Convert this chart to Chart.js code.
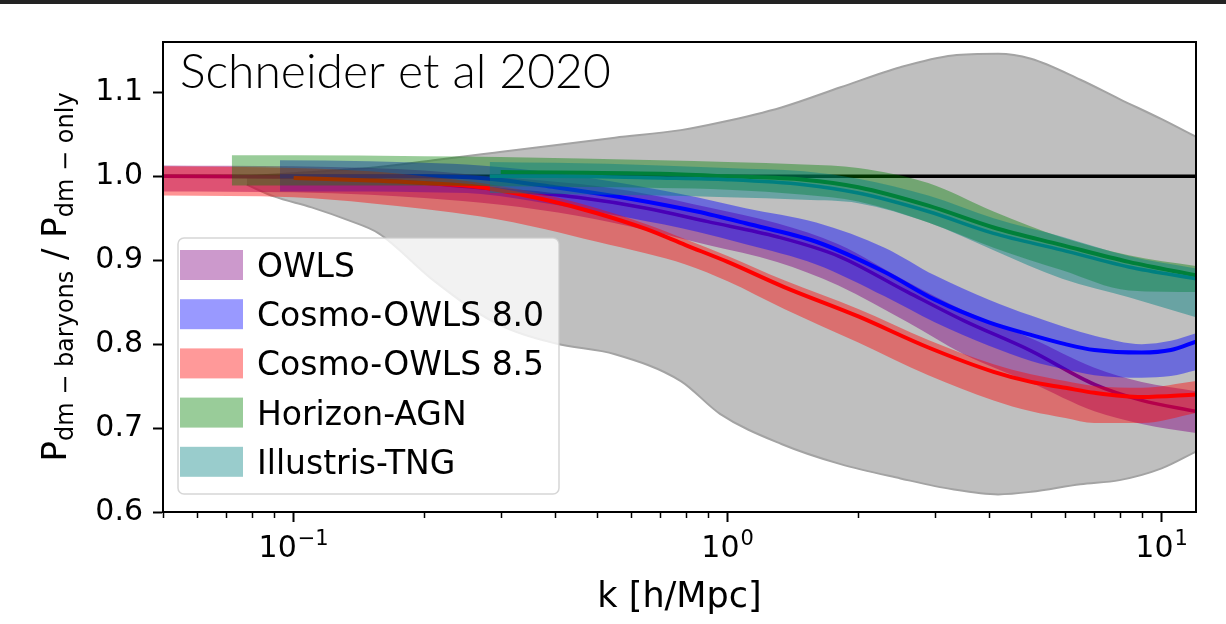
<!DOCTYPE html>
<html>
<head>
<meta charset="utf-8">
<script src="https://cdn.jsdelivr.net/npm/chart.js@4/dist/chart.umd.min.js"></script>
<style>
  html, body { margin: 0; padding: 0; background: #fff; }
  #wrap { position: relative; width: 1226px; height: 624px; }
  #topbar { position: absolute; left: 0; top: 0; width: 1226px; height: 4px; background: #232323; }
</style>
</head>
<body>
<div id="wrap">
  <canvas id="chart" width="1226" height="624"></canvas>
  <div id="topbar"></div>
</div>
<script>
const FONT = '"DejaVu Sans", sans-serif';

// axes
const kMin = 0.05, kMax = 12;
const yMin = 0.6, yMax = 1.16;
const yTicks = [0.6, 0.7, 0.8, 0.9, 1.0, 1.1];
const xMajorTicks = [0.1, 1, 10];
const xMajorExp = ['\u22121', '0', '1'];
const xMinorTicks = [0.05, 0.06, 0.07, 0.08, 0.09, 0.2, 0.3, 0.4, 0.5, 0.6, 0.7, 0.8, 0.9, 2, 3, 4, 5, 6, 7, 8, 9];

// grey envelope
const kGray  = [0.078, 0.09, 0.11, 0.133, 0.157, 0.21, 0.29, 0.4, 0.55, 0.78, 0.96, 1.33, 1.82, 2.5, 3.3, 4.2, 5.0, 6.5, 8.0, 10, 12];
const grayHi = [1.0, 1.002, 1.005, 1.008, 1.011, 1.019, 1.028, 1.037, 1.046, 1.055, 1.064, 1.082, 1.106, 1.13, 1.144, 1.146, 1.14, 1.115, 1.092, 1.068, 1.047];
const grayLo = [0.99, 0.976, 0.963, 0.948, 0.932, 0.876, 0.826, 0.801, 0.788, 0.756, 0.717, 0.681, 0.657, 0.640, 0.627, 0.621, 0.624, 0.633, 0.638, 0.652, 0.672];

// OWLS (null = centre line not drawn there)
const kOwls   = [0.05, 0.1, 0.15, 0.2, 0.3, 0.45, 0.65, 0.9, 1.3, 1.8, 2.6, 3.5, 5.0, 7.0, 9.0, 12];
const owlsMid = [1.0, 0.999, 0.996, 0.992, 0.984, 0.975, 0.962, 0.946, 0.928, 0.905, 0.862, 0.828, 0.792, 0.752, 0.733, 0.72];
const owlsHi  = [1.013, 1.012, 1.010, 1.007, 0.999, 0.991, 0.979, 0.963, 0.944, 0.919, 0.874, 0.840, 0.807, 0.772, 0.755, 0.744];
const owlsLo  = [0.982, 0.981, 0.978, 0.974, 0.966, 0.953, 0.936, 0.918, 0.898, 0.87, 0.826, 0.788, 0.754, 0.72, 0.705, 0.694];

// Cosmo-OWLS 8.0
const kC80   = [0.093, 0.15, 0.2, 0.27, 0.4, 0.6, 0.85, 1.1, 1.6, 2.3, 3.0, 4.0, 5.0, 6.0, 7.0, 9.0, 10.5, 12];
const c80Mid = [1.0, 1.0, 1.0, 0.998, 0.987, 0.973, 0.958, 0.944, 0.922, 0.886, 0.853, 0.826, 0.811, 0.80, 0.793, 0.79, 0.793, 0.803];
const c80Hi  = [1.019, 1.018, 1.016, 1.013, 1.004, 0.99, 0.975, 0.962, 0.945, 0.915, 0.882, 0.853, 0.834, 0.82, 0.81, 0.80, 0.804, 0.813];
const c80Lo  = [0.982, 0.982, 0.981, 0.979, 0.966, 0.95, 0.934, 0.919, 0.895, 0.857, 0.826, 0.798, 0.78, 0.77, 0.763, 0.76, 0.762, 0.769];

// Cosmo-OWLS 8.5
const kC85   = [0.05, 0.1, 0.15, 0.2, 0.27, 0.38, 0.5, 0.65, 0.8, 1.0, 1.35, 2.0, 2.9, 4.1, 5.0, 6.0, 7.0, 9.0, 12];
const c85Mid = [null, 0.998, 0.995, 0.992, 0.987, 0.972, 0.956, 0.937, 0.918, 0.898, 0.868, 0.833, 0.796, 0.767, 0.755, 0.748, 0.742, 0.737, 0.74];
const c85Hi  = [1.012, 1.01, 1.006, 1.0, 0.992, 0.978, 0.962, 0.943, 0.925, 0.905, 0.876, 0.842, 0.805, 0.776, 0.764, 0.756, 0.75, 0.748, 0.756];
const c85Lo  = [0.977, 0.975, 0.968, 0.961, 0.952, 0.937, 0.922, 0.908, 0.895, 0.875, 0.842, 0.802, 0.763, 0.733, 0.72, 0.712, 0.706, 0.706, 0.718];

// Horizon-AGN
const kHor   = [0.072, 0.1, 0.2, 0.3, 0.7, 1.0, 1.5, 2.0, 2.9, 4.1, 5.9, 8.4, 12];
const horMid = [null, null, null, 1.005, 1.003, 1.0, 0.996, 0.987, 0.965, 0.939, 0.918, 0.898, 0.882];
const horHi  = [1.025, 1.025, 1.024, 1.023, 1.019, 1.017, 1.014, 1.01, 0.992, 0.958, 0.927, 0.906, 0.893];
const horLo  = [0.989, 0.989, 0.989, 0.988, 0.986, 0.984, 0.978, 0.97, 0.945, 0.915, 0.888, 0.864, 0.862];

// Illustris-TNG
const kTng   = [0.283, 0.4, 0.7, 1.0, 1.5, 2.0, 2.9, 4.1, 5.9, 8.4, 12];
const tngMid = [1.0, 1.0, 0.998, 0.996, 0.99, 0.98, 0.958, 0.932, 0.912, 0.892, 0.878];
const tngHi  = [1.017, 1.016, 1.013, 1.01, 1.006, 0.997, 0.977, 0.95, 0.928, 0.905, 0.89];
const tngLo  = [0.98, 0.979, 0.977, 0.975, 0.972, 0.968, 0.945, 0.912, 0.878, 0.856, 0.832];

const legendNames  = ['OWLS', 'Cosmo-OWLS 8.0', 'Cosmo-OWLS 8.5', 'Horizon-AGN', 'Illustris-TNG'];
const legendColors = ['rgba(128,0,128,0.4)', 'rgba(0,0,255,0.4)', 'rgba(255,0,0,0.4)', 'rgba(0,128,0,0.4)', 'rgba(0,128,128,0.4)'];

const pts = (k, v) => k.map((x, i) => ({ x, y: v[i] }));

// datasets are pushed bottom -> top, `order` is set from that below
const ds = [];
function addBand(k, lo, hi, fillColor, edge) {
  const i = ds.length;
  const bw = edge ? 2 : 0;
  ds.push({ data: pts(k, lo), fill: { target: i + 1 }, backgroundColor: fillColor, borderColor: edge || 'transparent', borderWidth: bw });
  ds.push({ data: pts(k, hi), fill: false, borderColor: edge || 'transparent', borderWidth: bw });
}
function addLine(k, v, color, w) {
  ds.push({ data: pts(k, v), fill: false, borderColor: color, borderWidth: w });
}

addBand(kGray, grayLo, grayHi, '#bfbfbf', '#a3a3a3');
addLine([kMin, kMax], [1.0, 1.0], '#000', 3.5);
addBand(kOwls, owlsLo, owlsHi, 'rgba(128,0,128,0.45)');
addLine(kOwls, owlsMid, '#800080', 3.5);
addBand(kC80, c80Lo, c80Hi, 'rgba(0,0,255,0.43)');
addLine(kC80, c80Mid, '#0000ff', 4);
addBand(kC85, c85Lo, c85Hi, 'rgba(255,0,0,0.42)');
addLine(kC85, c85Mid, '#ff0000', 4);
addBand(kHor, horLo, horHi, 'rgba(0,128,0,0.4)');
addLine(kHor, horMid, '#008000', 4);
addBand(kTng, tngLo, tngHi, 'rgba(0,128,128,0.45)');
addLine(kTng, tngMid, '#008080', 3.5);

ds.forEach((d, i) => {
  d.order = ds.length - i;
  d.pointRadius = 0;
  d.cubicInterpolationMode = 'monotone';
});

const decorPlugin = {
  id: 'decor',
  afterDraw(chart) {
    const { ctx, chartArea: a, scales: { x } } = chart;
    ctx.save();

    // top + right spines
    ctx.strokeStyle = '#000';
    ctx.lineWidth = 2;
    ctx.beginPath();
    ctx.moveTo(a.left, a.top); ctx.lineTo(a.right, a.top); ctx.lineTo(a.right, a.bottom);
    ctx.stroke();

    // minor ticks
    ctx.lineWidth = 1.5;
    xMinorTicks.forEach(v => {
      const px = Math.round(x.getPixelForValue(v)) + 0.5;
      ctx.beginPath(); ctx.moveTo(px, a.bottom); ctx.lineTo(px, a.bottom + 6); ctx.stroke();
    });

    // x tick labels 10^n
    ctx.fillStyle = '#000';
    ctx.textBaseline = 'alphabetic';
    ctx.textAlign = 'left';
    xMajorTicks.forEach((v, i) => {
      const px = x.getPixelForValue(v);
      ctx.font = `30px ${FONT}`;
      const w1 = ctx.measureText('10').width;
      ctx.font = `21px ${FONT}`;
      const w2 = ctx.measureText(xMajorExp[i]).width;
      const x0 = px - (w1 + w2 + 1) / 2;
      ctx.font = `30px ${FONT}`;
      ctx.fillText('10', x0, 557);
      ctx.font = `21px ${FONT}`;
      ctx.fillText(xMajorExp[i], x0 + w1 + 1, 545);
    });

    // x axis title
    ctx.font = `35px ${FONT}`;
    ctx.textAlign = 'center';
    ctx.fillText('k [h/Mpc]', (a.left + a.right) / 2, 607);

    // y axis title with subscripts
    const runs = [['P', 34, 0], ['dm \u2212 baryons', 24, 7], [' / ', 34, 0], ['P', 34, 0], ['dm \u2212 only', 24, 7]];
    let total = 0;
    runs.forEach(r => { ctx.font = `${r[1]}px ${FONT}`; total += ctx.measureText(r[0]).width; });
    ctx.save();
    ctx.translate(66, (a.top + a.bottom) / 2);
    ctx.rotate(-Math.PI / 2);
    ctx.textAlign = 'left';
    let cx = -total / 2;
    runs.forEach(r => {
      ctx.font = `${r[1]}px ${FONT}`;
      ctx.fillText(r[0], cx, r[2]);
      cx += ctx.measureText(r[0]).width;
    });
    ctx.restore();

    // corner text
    ctx.font = '300 48px Lato, sans-serif';
    ctx.textAlign = 'left';
    ctx.fillText('Schneider et al 2020', 180, 88);

    // legend
    const lx = 178, ly = 238, lw = 381, lh = 256;
    ctx.beginPath();
    ctx.roundRect(lx, ly, lw, lh, 6);
    ctx.fillStyle = 'rgba(255,255,255,0.8)';
    ctx.fill();
    ctx.strokeStyle = 'rgba(204,204,204,0.8)';
    ctx.lineWidth = 1.5;
    ctx.stroke();
    ctx.font = `33px ${FONT}`;
    legendNames.forEach((name, i) => {
      const cy = 265 + i * 49.2;
      ctx.fillStyle = legendColors[i];
      ctx.fillRect(180, cy - 15, 63, 30);
      ctx.fillStyle = '#000';
      ctx.fillText(name, 257, cy + 12);
    });

    ctx.restore();
  }
};

const tickGrid = { drawOnChartArea: false, drawTicks: true, tickLength: 10, tickWidth: 2, tickColor: '#000' };
const axisBorder = { display: true, color: '#000', width: 2, z: 1 };

new Chart(document.getElementById('chart'), {
  type: 'line',
  data: { datasets: ds },
  options: {
    responsive: false,
    animation: false,
    parsing: false,
    layout: { padding: { top: 42, right: 30, left: 0, bottom: 0 } },
    plugins: { legend: { display: false }, tooltip: { enabled: false } },
    scales: {
      x: {
        type: 'logarithmic', min: kMin, max: kMax,
        afterBuildTicks: s => { s.ticks = xMajorTicks.map(value => ({ value, major: true })); },
        afterFit: s => { s.height = 112; },
        ticks: { display: false },
        grid: tickGrid, border: axisBorder,
      },
      y: {
        type: 'linear', min: yMin, max: yMax,
        afterBuildTicks: s => { s.ticks = yTicks.map(value => ({ value })); },
        afterFit: s => { s.width = 163; },
        ticks: { font: { family: FONT, size: 30 }, color: '#000', padding: 10, callback: v => v.toFixed(1) },
        grid: tickGrid, border: axisBorder,
      }
    }
  },
  plugins: [decorPlugin],
});
</script>
</body>
</html>
